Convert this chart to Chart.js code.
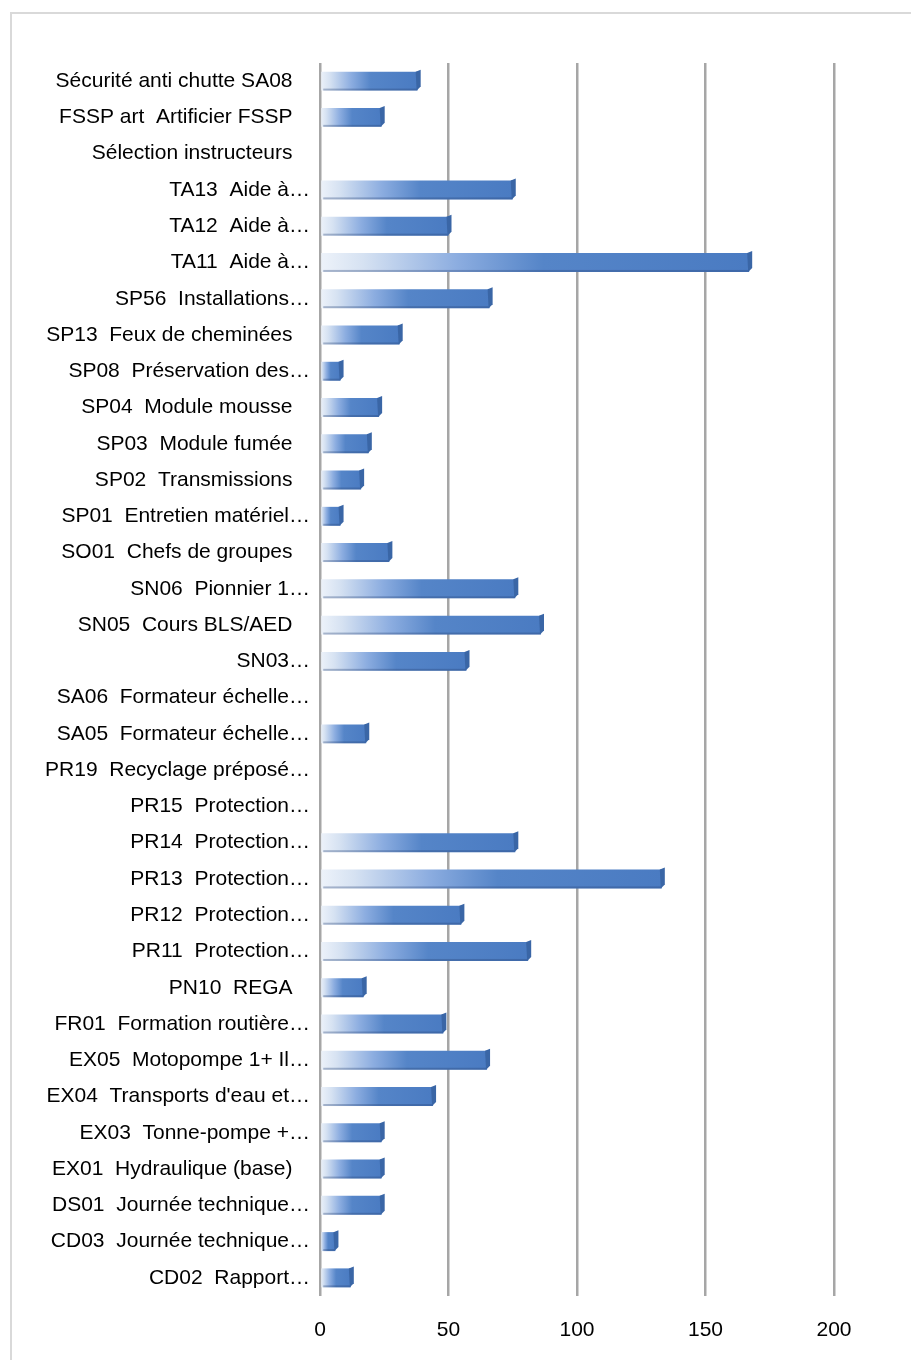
<!DOCTYPE html>
<html>
<head>
<meta charset="utf-8">
<script src="https://cdn.jsdelivr.net/npm/chart.js@4"></script>
<style>
    html, body { margin: 0; padding: 0; background: #fff; }
    #wrap { position: relative; width: 911px; height: 1360px; overflow: hidden; }
    #frame { position: absolute; left: 10px; top: 12px; width: 940px; height: 1400px; border: 2px solid #d9d9d9; }
    canvas { position: absolute; left: 0; top: 0; }
</style>
</head>
<body>
<div id="wrap">
    <div id="frame"></div>
    <canvas id="chart" width="911" height="1360"></canvas>
</div>
<script>
const courses = [
    'Sécurité anti chutte SA08   ',
    'FSSP art  Artificier FSSP   ',
    'Sélection instructeurs   ',
    'TA13  Aide à…',
    'TA12  Aide à…',
    'TA11  Aide à…',
    'SP56  Installations…',
    'SP13  Feux de cheminées   ',
    'SP08  Préservation des…',
    'SP04  Module mousse   ',
    'SP03  Module fumée   ',
    'SP02  Transmissions   ',
    'SP01  Entretien matériel…',
    'SO01  Chefs de groupes   ',
    'SN06  Pionnier 1…',
    'SN05  Cours BLS/AED   ',
    'SN03…',
    'SA06  Formateur échelle…',
    'SA05  Formateur échelle…',
    'PR19  Recyclage préposé…',
    'PR15  Protection…',
    'PR14  Protection…',
    'PR13  Protection…',
    'PR12  Protection…',
    'PR11  Protection…',
    'PN10  REGA   ',
    'FR01  Formation routière…',
    'EX05  Motopompe 1+ Il…',
    'EX04  Transports d\'eau et…',
    'EX03  Tonne-pompe +…',
    'EX01  Hydraulique (base)   ',
    'DS01  Journée technique…',
    'CD03  Journée technique…',
    'CD02  Rapport…'
];

const participants = [
    38, 24, 0, 75, 50, 167, 66, 31, 8, 23, 19, 16, 8, 27,
    76, 86, 57, 0, 18, 0, 0, 76, 133, 55, 81, 17, 48, 65,
    44, 24, 24, 24, 6, 12
];

const xTicks = [0, 50, 100, 150, 200];

const FONT = 'Liberation Sans';

function barGradient(ctx) {
    const chart = ctx.chart;
    if (!chart.chartArea) return '#4f81bd';
    const xs = chart.scales.x;
    const x0 = xs.getPixelForValue(0);
    const x1 = xs.getPixelForValue(ctx.raw || 0);
    if (x1 - x0 < 2) return '#4a7bc0';
    const g = chart.ctx.createLinearGradient(x0, 0, x1, 0);
    g.addColorStop(0, '#eef3fa');
    g.addColorStop(0.1, '#d6e2f2');
    g.addColorStop(0.32, '#8cade0');
    g.addColorStop(0.52, '#5585c8');
    g.addColorStop(1, '#4a7bc2');
    return g;
}

// darker end cap to mimic the 3D bar side
const barCaps = {
    id: 'barCaps',
    afterDatasetsDraw(chart) {
        const c = chart.ctx;
        chart.getDatasetMeta(0).data.forEach((bar, i) => {
            if (!participants[i]) return;
            const h = bar.height;
            c.save();
            c.fillStyle = '#3a66a6';
            c.beginPath();
            c.moveTo(bar.x - 2, bar.y - h / 2);
            c.lineTo(bar.x + 3, bar.y - h / 2 - 2);
            c.lineTo(bar.x + 3, bar.y + h / 2 - 4);
            c.lineTo(bar.x - 1, bar.y + h / 2);
            c.closePath();
            c.fill();
            c.fillStyle = 'rgba(40,70,120,0.35)';
            c.fillRect(bar.base + 2, bar.y + h / 2 - 2, bar.x - bar.base - 3, 2);
            c.restore();
        });
    }
};

new Chart(document.getElementById('chart'), {
    type: 'bar',
    data: {
        labels: courses,
        datasets: [{
            data: participants,
            backgroundColor: barGradient,
            borderWidth: 0,
            barPercentage: 0.95,
            categoryPercentage: 0.55
        }]
    },
    plugins: [barCaps],
    options: {
        indexAxis: 'y',
        responsive: false,
        animation: false,
        layout: { padding: { top: 63, right: 77, left: 0, bottom: 0 } },
        plugins: { legend: { display: false }, tooltip: { enabled: false } },
        scales: {
            x: {
                min: 0,
                max: 200,
                afterBuildTicks(scale) { scale.ticks = xTicks.map(v => ({ value: v })); },
                afterFit(scale) { scale.height = 64; },
                grid: { color: '#a6a6a6', lineWidth: 2.5, drawTicks: false },
                border: { display: false },
                ticks: { color: '#000', padding: 22, font: { family: FONT, size: 21 } }
            },
            y: {
                afterFit(scale) { scale.width = 320; },
                grid: { display: false },
                border: { display: false },
                ticks: { color: '#000', padding: 2, autoSkip: false, font: { family: FONT, size: 21 } }
            }
        }
    }
});
</script>
</body>
</html>
